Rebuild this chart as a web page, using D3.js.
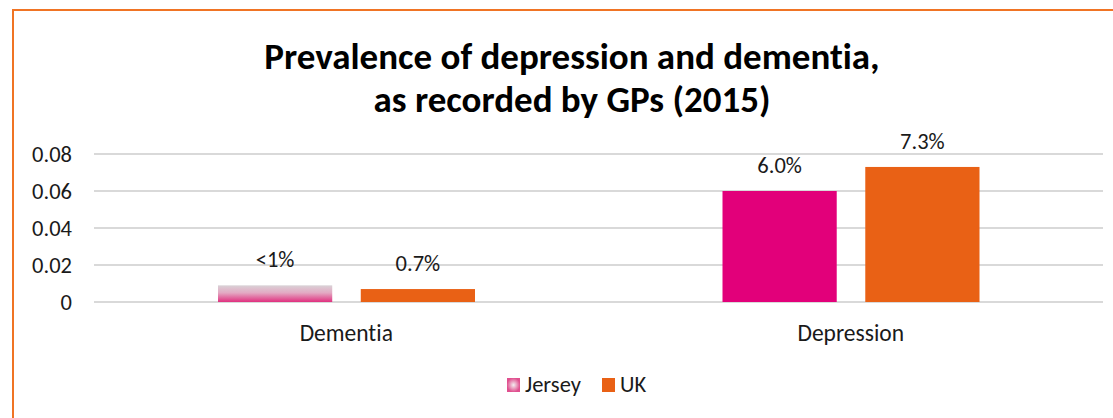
<!DOCTYPE html>
<html><head><meta charset="utf-8">
<script src="https://cdn.jsdelivr.net/npm/d3@7"></script>
<style>body{margin:0;background:#fff;} text{font-family:Carlito,Lato,sans-serif;font-variant-ligatures:none;}</style>
</head><body><svg id="c" width="1113" height="418"></svg>
<script>
const categories = ["Dementia", "Depression"];
const seriesNames = ["Jersey", "UK"];
const jerseyValues = [0.009, 0.060];
const ukValues = [0.007, 0.073];
const jerseyLabels = ["<1%", "6.0%"];
const ukLabels = ["0.7%", "7.3%"];
const yTicks = [0, 0.02, 0.04, 0.06, 0.08];
const titleLines = ["Prevalence of depression and dementia,", "as recorded by GPs (2015)"];

(function(){
const svg = d3.select("#c");
const pink = "#e2007a", orange = "#e96115", txt = "#1a1a1a";
const defs = svg.append("defs");
const lg = defs.append("linearGradient").attr("id","gbar").attr("x1",0).attr("y1",0).attr("x2",0).attr("y2",1);
lg.append("stop").attr("offset","0%").attr("stop-color","#d9d2d6");
lg.append("stop").attr("offset","45%").attr("stop-color","#e3a9c3");
lg.append("stop").attr("offset","100%").attr("stop-color","#e0307f");
const rg = defs.append("radialGradient").attr("id","gleg");
rg.append("stop").attr("offset","0%").attr("stop-color","#f3eef0");
rg.append("stop").attr("offset","100%").attr("stop-color","#e0508f");

// border
svg.append("rect").attr("x",13).attr("y",10).attr("width",1200).attr("height",500)
  .attr("fill","none").attr("stroke","#f07424").attr("stroke-width",2);

const pLeft = 94, pRight = 1103, pTop = 154, pBottom = 302;
const y = d3.scaleLinear().domain([0, 0.08]).range([pBottom, pTop]);
const x0 = d3.scaleBand().domain(categories).range([pLeft, pRight]).paddingInner(0).paddingOuter(0);
const x1 = d3.scaleBand().domain(seriesNames).range([124, 124 + 257]).paddingInner(0.2).paddingOuter(0);

// gridlines
svg.append("g").selectAll("line").data(yTicks).join("line")
  .attr("x1", pLeft).attr("x2", pRight).attr("y1", d => y(d)).attr("y2", d => y(d))
  .attr("stroke", "#d9d9d9").attr("stroke-width", 2);

// y axis labels
const yAxis = d3.axisLeft(y).tickValues(yTicks).tickSize(0).tickPadding(0)
  .tickFormat(d => d === 0 ? "0" : d3.format(".2f")(d));
const ya = svg.append("g").attr("transform", `translate(72,0)`).call(yAxis);
ya.select(".domain").remove();
ya.selectAll("text").attr("font-size", 22.5).attr("fill", txt).attr("font-family", "Carlito,Lato,sans-serif");

// x axis labels
const xAxis = d3.axisBottom(x0).tickSize(0).tickPadding(0);
const xa = svg.append("g").attr("transform", `translate(0,0)`).call(xAxis);
xa.select(".domain").remove();
xa.selectAll("text").attr("dy", null).attr("y", 341).attr("font-size", 23.5).attr("fill", txt).attr("font-family", "Carlito,Lato,sans-serif");

// bars
const rows = categories.map((c, i) => ({
  cat: c,
  vals: [
    {s: "Jersey", v: jerseyValues[i], label: jerseyLabels[i]},
    {s: "UK", v: ukValues[i], label: ukLabels[i]}
  ]
}));
const g = svg.append("g").selectAll("g").data(rows).join("g")
  .attr("transform", d => `translate(${x0(d.cat)},0)`);
g.selectAll("rect").data(d => d.vals).join("rect")
  .attr("x", d => x1(d.s)).attr("width", x1.bandwidth())
  .attr("y", d => y(d.v)).attr("height", d => y(0) - y(d.v))
  .attr("fill", d => d.s === "UK" ? orange : (d.v < 0.01 ? "url(#gbar)" : pink));
g.selectAll("text").data(d => d.vals).join("text")
  .attr("x", d => x1(d.s) + x1.bandwidth() / 2).attr("y", d => y(d.v) - 18)
  .attr("text-anchor", "middle").attr("font-size", 22.5).attr("fill", txt)
  .text(d => d.label);

// title
svg.append("text").attr("x", 572).attr("y", 69).attr("text-anchor", "middle")
  .attr("font-size", 37).attr("font-weight", "bold").attr("fill", "#000")
  .selectAll("tspan").data(titleLines).join("tspan")
  .attr("x", 572).attr("dy", (d, i) => i === 0 ? 0 : 43).text(d => d);

// legend
const leg = svg.append("g");
const legItems = [{n: seriesNames[0], x: 507, fill: "url(#gleg)"}, {n: seriesNames[1], x: 602, fill: orange}];
legItems.forEach(it => {
  leg.append("rect").attr("x", it.x).attr("y", 378).attr("width", 13).attr("height", 14).attr("fill", it.fill);
  leg.append("text").attr("x", it.x + 18).attr("y", 392).attr("font-size", 22.5).attr("fill", txt).text(it.n);
});
})();
</script></body></html>
